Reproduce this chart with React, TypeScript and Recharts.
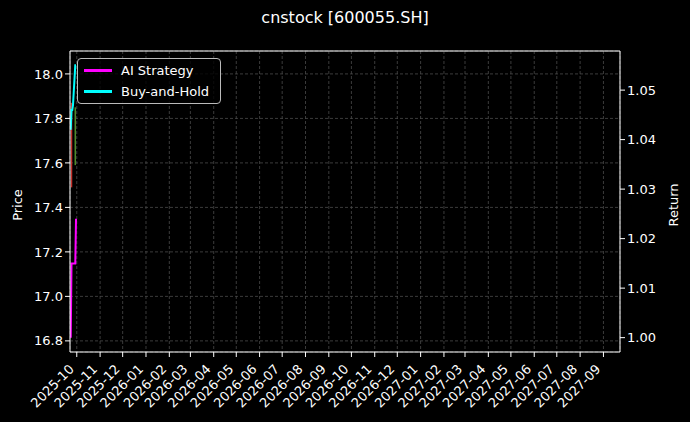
import { CartesianGrid, ComposedChart, Line, ReferenceLine, XAxis, YAxis } from 'recharts';

// daily values
const dates = ['2025-09-23', '2025-09-24', '2025-09-25', '2025-09-26', '2025-09-29', '2025-09-30'];
const aiStrategy = [1.0, 1.015, 1.015, 1.015, 1.015, 1.024];
const buyAndHold = [1.042, 1.046, 1.046, 1.047, 1.055, 1.055];

// price candles (low / high)
const candleDates = ['2025-09-24', '2025-09-29'];
const candleLow = [17.49, 17.59];
const candleHigh = [17.87, 17.85];
const candleColors = ['#c8302a', '#4e8a2a'];

const monthLabels = [
  '2025-10', '2025-11', '2025-12', '2026-01', '2026-02', '2026-03', '2026-04', '2026-05',
  '2026-06', '2026-07', '2026-08', '2026-09', '2026-10', '2026-11', '2026-12', '2027-01',
  '2027-02', '2027-03', '2027-04', '2027-05', '2027-06', '2027-07', '2027-08', '2027-09',
];
const priceTicks = [16.8, 17.0, 17.2, 17.4, 17.6, 17.8, 18.0];
const returnTicks = [1.0, 1.01, 1.02, 1.03, 1.04, 1.05];

const toTs = (s: string) => {
  const [y, m, d] = s.split('-').map(Number);
  return Date.UTC(y, m - 1, d || 1);
};

const xTicks = monthLabels.map((m) => toTs(m));
const labelByTs: Record<number, string> = {};
monthLabels.forEach((m, i) => (labelByTs[xTicks[i]] = m));

const rows: any[] = dates.map((d, i) => ({ t: toTs(d), ai: aiStrategy[i], bh: buyAndHold[i] }));
candleDates.forEach((d, i) => {
  rows.push({ t: toTs(d), ['c' + i]: candleLow[i] });
  rows.push({ t: toTs(d), ['c' + i]: candleHigh[i] });
});
rows.sort((a, b) => a.t - b.t);

const FONT = 'DejaVu Sans, sans-serif';
const PRICE_MAX = 18.103;

// rotated month label, right end hung just under the tick like matplotlib
function MonthTick(props: any) {
  const { x, y, payload } = props;
  const ax = x - 2;
  const ay = y + 11;
  return (
    <text x={ax} y={ay} textAnchor="end" fill="#fff" fontSize={13} fontFamily={FONT} transform={`rotate(-45, ${ax}, ${ay})`}>
      {labelByTs[payload.value] ?? ''}
    </text>
  );
}

function LegendBox() {
  const item = (color: string, text: string) => (
    <div style={{ display: 'flex', alignItems: 'center', height: 21 }}>
      <div style={{ width: 28, height: 2.5, background: color, marginRight: 9 }} />
      <span>{text}</span>
    </div>
  );
  return (
    <div
      style={{
        position: 'absolute',
        left: 77,
        top: 58,
        border: '1px solid #bbb',
        borderRadius: 4,
        background: 'rgba(0,0,0,0.8)',
        padding: '1px 8px 1px 6px',
        color: '#fff',
        fontSize: 13,
        fontFamily: FONT,
        width: 128,
      }}
    >
      {item('#ff00ff', 'AI Strategy')}
      {item('#00ffff', 'Buy-and-Hold')}
    </div>
  );
}

export default function App() {
  return (
    <div style={{ position: 'absolute', left: 0, top: 0, width: 690, height: 422, background: '#000', fontFamily: FONT }}>
      <div style={{ position: 'absolute', top: 8, width: 690, textAlign: 'center', color: '#fff', fontSize: 16 }}>
        cnstock [600055.SH]
      </div>
      <div
        style={{
          position: 'absolute', left: 17, top: 205, color: '#fff', fontSize: 13,
          transform: 'translate(-50%, -50%) rotate(-90deg)', whiteSpace: 'nowrap',
        }}
      >
        Price
      </div>
      <div
        style={{
          position: 'absolute', left: 673, top: 205, color: '#fff', fontSize: 13,
          transform: 'translate(-50%, -50%) rotate(-90deg)', whiteSpace: 'nowrap',
        }}
      >
        Return
      </div>
      <ComposedChart width={690} height={422} data={rows} margin={{ top: 51, right: 10, bottom: 0, left: 10 }}>
        <CartesianGrid yAxisId="left" stroke="#4a4a4a" strokeDasharray="3 2" strokeWidth={0.8} />
        <XAxis
          dataKey="t"
          type="number"
          domain={[toTs('2025-09-22'), toTs('2027-09-23')]}
          ticks={xTicks}
          interval={0}
          height={70}
          stroke="#fff"
          tick={<MonthTick />}
          tickSize={5}
          allowDataOverflow
        />
        <YAxis
          yAxisId="left"
          domain={[16.75, PRICE_MAX]}
          ticks={priceTicks}
          tickFormatter={(v) => v.toFixed(1)}
          width={60}
          stroke="#fff"
          tick={{ fill: '#fff', fontSize: 13 }}
          tickSize={5}
          allowDataOverflow
        />
        <YAxis
          yAxisId="right"
          orientation="right"
          domain={[0.9971, 1.0579]}
          ticks={returnTicks}
          tickFormatter={(v) => v.toFixed(2)}
          width={60}
          stroke="#fff"
          tick={{ fill: '#fff', fontSize: 13 }}
          tickSize={5}
          allowDataOverflow
        />
        <ReferenceLine yAxisId="left" y={PRICE_MAX} stroke="#fff" strokeWidth={1} />
        {candleDates.map((_, i) => (
          <Line
            key={i}
            yAxisId="left"
            dataKey={'c' + i}
            stroke={candleColors[i]}
            strokeWidth={1.5}
            dot={false}
            connectNulls
            isAnimationActive={false}
            legendType="none"
          />
        ))}
        <Line yAxisId="right" dataKey="ai" stroke="#ff00ff" strokeWidth={2} dot={false} connectNulls isAnimationActive={false} />
        <Line yAxisId="right" dataKey="bh" stroke="#00ffff" strokeWidth={2} dot={false} connectNulls isAnimationActive={false} />
      </ComposedChart>
      <LegendBox />
    </div>
  );
}
